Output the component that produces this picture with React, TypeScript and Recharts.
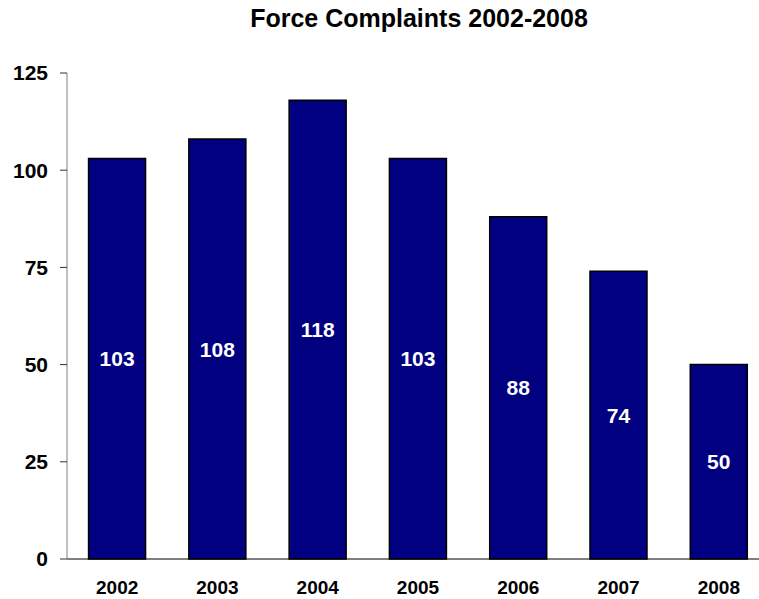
import React from "react";
import { BarChart, Bar, XAxis, YAxis, LabelList } from "recharts";

const years = ["2002", "2003", "2004", "2005", "2006", "2007", "2008"];
const complaints = [103, 108, 118, 103, 88, 74, 50];
const yTicks = [0, 25, 50, 75, 100, 125];
const title = "Force Complaints 2002-2008";

const data = years.map((year, i) => ({ year, value: complaints[i] }));

const FONT = "'Liberation Sans', Arial, Helvetica, sans-serif";

export default function App() {
  return (
    <div
      style={{
        position: "absolute",
        left: 0,
        top: 0,
        width: 759,
        height: 599,
        overflow: "hidden",
        background: "#fff",
        fontFamily: FONT,
      }}
    >
      <BarChart
        width={770}
        height={599}
        data={data}
        margin={{ top: 73, right: 1, bottom: 0, left: 0 }}
        barCategoryGap="21.5%"
      >
        <XAxis
          dataKey="year"
          tickLine={false}
          axisLine={{ stroke: "#000", strokeWidth: 1 }}
          height={40}
          tickMargin={16}
          tick={{ fill: "#000", fontSize: 19, fontWeight: "bold", fontFamily: FONT }}
          interval={0}
        />
        <YAxis
          domain={[0, 125]}
          ticks={yTicks}
          width={67}
          tickSize={7}
          tickMargin={12}
          axisLine={{ stroke: "#808080", strokeWidth: 1 }}
          tickLine={{ stroke: "#333", strokeWidth: 1 }}
          tick={{ fill: "#000", fontSize: 21, fontWeight: "bold", fontFamily: FONT }}
          interval={0}
        />
        <Bar dataKey="value" fill="#000080" stroke="#000" strokeWidth={1.5} isAnimationActive={false}>
          <LabelList
            dataKey="value"
            position="center"
            fill="#fff"
            fontSize={21}
            fontWeight="bold"
            fontFamily={FONT}
          />
        </Bar>
      </BarChart>
      <svg
        width={759}
        height={40}
        style={{ position: "absolute", left: 0, top: 0, pointerEvents: "none" }}
      >
        <text
          x={419}
          y={27}
          textAnchor="middle"
          fontSize={25}
          fontWeight="bold"
          fontFamily={FONT}
          fill="#000"
        >
          {title}
        </text>
      </svg>
    </div>
  );
}
